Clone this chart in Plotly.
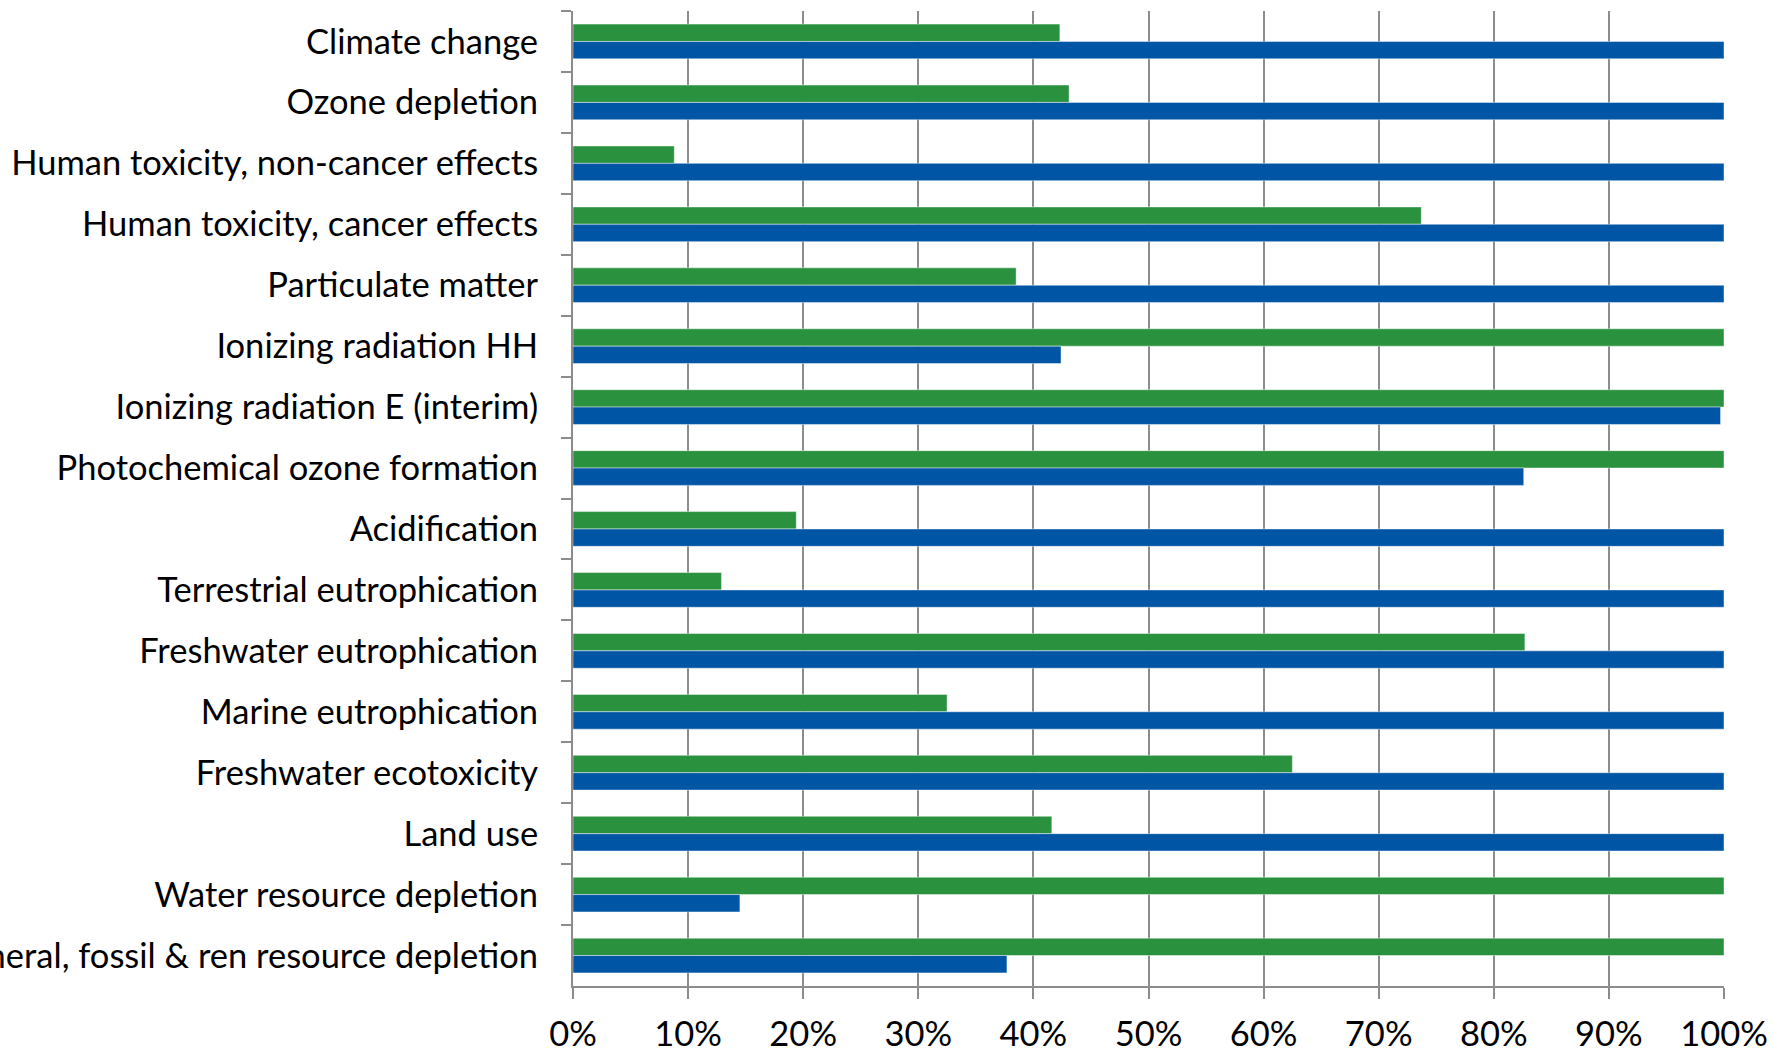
import plotly.graph_objects as go

# Impact categories, top to bottom
categories = [
    "Climate change",
    "Ozone depletion",
    "Human toxicity, non-cancer effects",
    "Human toxicity, cancer effects",
    "Particulate matter",
    "Ionizing radiation HH",
    "Ionizing radiation E (interim)",
    "Photochemical ozone formation",
    "Acidification",
    "Terrestrial eutrophication",
    "Freshwater eutrophication",
    "Marine eutrophication",
    "Freshwater ecotoxicity",
    "Land use",
    "Water resource depletion",
    "Mineral, fossil & ren resource depletion",
]

# Relative impact (share of the larger of the two, in %)
green_values = [42.3, 43.1, 8.8, 73.7, 38.5, 100, 100, 100,
                19.4, 12.9, 82.7, 32.5, 62.5, 41.6, 100, 100]
blue_values = [100, 100, 100, 100, 100, 42.4, 99.7, 82.6,
               100, 100, 100, 100, 100, 100, 14.5, 37.7]

x_ticks = [0, 10, 20, 30, 40, 50, 60, 70, 80, 90, 100]
x_tick_labels = [f"{v}%" for v in x_ticks]

GREEN = "#2a913e"
BLUE = "#0055a5"
GRID = "#8c8c8c"
FONT = "Lato, Carlito, Calibri, sans-serif"

fig = go.Figure()
fig.add_trace(go.Bar(
    y=categories, x=green_values, orientation="h",
    marker=dict(color=GREEN, line=dict(color="rgba(255,255,255,0.45)", width=1)),
    showlegend=False, hoverinfo="x+y",
))
fig.add_trace(go.Bar(
    y=categories, x=blue_values, orientation="h",
    marker=dict(color=BLUE, line=dict(color="rgba(255,255,255,0.45)", width=1)),
    showlegend=False, hoverinfo="x+y",
))

fig.update_layout(
    width=1773, height=1054,
    margin=dict(l=573, r=49, t=11, b=68, pad=0),
    plot_bgcolor="white", paper_bgcolor="white",
    barmode="group", bargap=0.43, bargroupgap=0,
    font=dict(family=FONT, size=34, color="black"),
)

fig.update_xaxes(
    range=[0, 100], tickvals=x_ticks, ticktext=x_tick_labels,
    showgrid=True, gridcolor=GRID, gridwidth=2,
    showline=True, linecolor=GRID, linewidth=2,
    ticks="outside", ticklen=11, tickwidth=2, tickcolor=GRID,
    tickfont=dict(family=FONT, size=34.5, color="black"),
    ticklabelstandoff=6,
    zeroline=False, fixedrange=True, automargin=False,
)
fig.update_yaxes(
    autorange="reversed", type="category",
    showgrid=False, showline=True, linecolor=GRID, linewidth=2,
    ticks="outside", tickson="boundaries", ticklen=10, tickwidth=2, tickcolor=GRID,
    tickfont=dict(family=FONT, size=34.5, color="black"),
    ticklabelstandoff=26,
    fixedrange=True, automargin=False,
)

fig.write_html("out.html")
